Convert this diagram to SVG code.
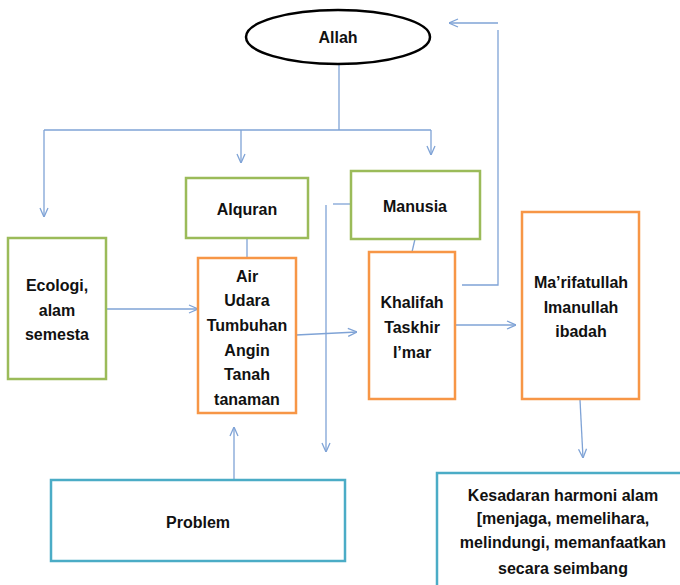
<svg xmlns="http://www.w3.org/2000/svg" width="680" height="585" viewBox="0 0 680 585">
<style>
text{font-family:"Liberation Sans",Arial,sans-serif;font-weight:bold;font-size:16px;fill:#111;text-anchor:middle}
.g{fill:#fff;stroke:#9BBB59;stroke-width:2.5}
.o{fill:#fff;stroke:#F79646;stroke-width:2.5}
.b{fill:#fff;stroke:#4BACC6;stroke-width:2.5}
.c{fill:none;stroke:#7FA3D6;stroke-width:1.3}
</style>
<defs>
<marker id="ah" viewBox="0 0 10 10" refX="10" refY="5" markerWidth="10" markerHeight="10" markerUnits="userSpaceOnUse" orient="auto">
<path d="M1,1 L10,5 L1,9" fill="none" stroke="#7FA3D6" stroke-width="1.3"/>
</marker>
</defs>
<rect width="680" height="585" fill="#fff"/>
<g id="connectors">
<path class="c" d="M339,64 V130"/>
<path class="c" d="M44,130 H431"/>
<path class="c" d="M44,130 V217" marker-end="url(#ah)"/>
<path class="c" d="M241,130 V163" marker-end="url(#ah)"/>
<path class="c" d="M431,130 V155" marker-end="url(#ah)"/>
<path class="c" d="M247,238 V258"/>
<path class="c" d="M106,309 H198" marker-end="url(#ah)"/>
<path class="c" d="M296,335 L357,332" marker-end="url(#ah)"/>
<path class="c" d="M333,204 H351"/>
<path class="c" d="M326,205 V452" marker-end="url(#ah)"/>
<path class="c" d="M415,239 L412,252"/>
<path class="c" d="M462,285 H498 V30"/>
<path class="c" d="M498,23 H449" marker-end="url(#ah)"/>
<path class="c" d="M455,325 H516" marker-end="url(#ah)"/>
<path class="c" d="M580,400 L583,458" marker-end="url(#ah)"/>
<path class="c" d="M234,480 V427" marker-end="url(#ah)"/>
</g>
<g id="allah">
<ellipse cx="338" cy="37" rx="92" ry="27" fill="#fff" stroke="#000" stroke-width="2.5"/>
<text x="338" y="43">Allah</text>
</g>
<g id="alquran">
<rect class="g" x="186" y="178" width="122" height="60"/>
<text x="247" y="215">Alquran</text>
</g>
<g id="manusia">
<rect class="g" x="351" y="171" width="129" height="68"/>
<text x="415" y="212">Manusia</text>
</g>
<g id="ecologi">
<rect class="g" x="8" y="238" width="98" height="141"/>
<text x="57" y="291">Ecologi,</text>
<text x="57" y="316">alam</text>
<text x="57" y="340">semesta</text>
</g>
<g id="elemen">
<rect class="o" x="198" y="258" width="98" height="155"/>
<text x="247" y="282">Air</text>
<text x="247" y="306">Udara</text>
<text x="247" y="331">Tumbuhan</text>
<text x="247" y="356">Angin</text>
<text x="247" y="380">Tanah</text>
<text x="247" y="405">tanaman</text>
</g>
<g id="khalifah">
<rect class="o" x="369" y="252" width="86" height="147"/>
<text x="412" y="308">Khalifah</text>
<text x="412" y="333">Taskhir</text>
<text x="412" y="358">I’mar</text>
</g>
<g id="marifatullah">
<rect class="o" x="522" y="212" width="117" height="187"/>
<text x="581" y="288">Ma’rifatullah</text>
<text x="581" y="313">Imanullah</text>
<text x="581" y="337">ibadah</text>
</g>
<g id="problem">
<rect class="b" x="51" y="480" width="294" height="81"/>
<text x="198" y="528">Problem</text>
</g>
<g id="kesadaran">
<rect class="b" x="437" y="473" width="260" height="130"/>
<text x="563" y="501">Kesadaran harmoni alam</text>
<text x="563" y="524">[menjaga, memelihara,</text>
<text x="563" y="548">melindungi, memanfaatkan</text>
<text x="563" y="574">secara seimbang</text>
</g>
</svg>
